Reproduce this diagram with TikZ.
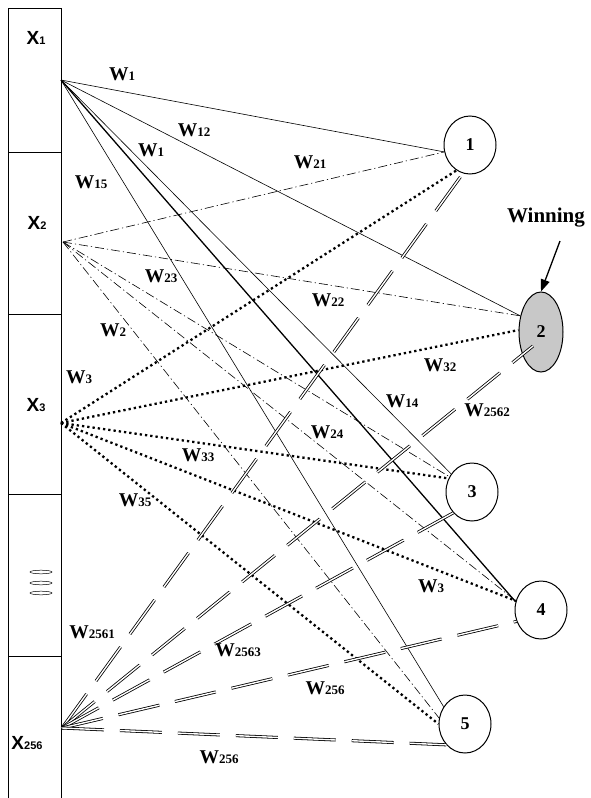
\documentclass[tikz,border=0pt]{standalone}
\usepackage{fontspec}
\setmainfont{Liberation Serif}
\newfontfamily\xsans{Liberation Sans}
\usetikzlibrary{shapes.geometric,arrows.meta}
\newcommand\lsub[1]{{\fontsize{13}{13}\selectfont #1}}
\newcommand\xsub[1]{{\fontsize{11}{11}\selectfont #1}}
\begin{document}
\begin{tikzpicture}[x=1pt,y=-1pt,
  wl/.style={font=\bfseries\fontsize{19.5}{21}\selectfont, inner sep=0pt},
  xl/.style={font=\xsans\bfseries\fontsize{19}{21}\selectfont, inner sep=0pt},
  outn/.style={ellipse, draw, line width=1pt, minimum width=52pt, minimum height=58pt, inner sep=0pt, fill=white, font=\bfseries\fontsize{18}{20}\selectfont},
  cell/.style={draw, line width=1pt, rectangle, minimum width=53pt, inner sep=0pt, anchor=north west},
  sline/.style={line width=0.6pt},
  thline/.style={line width=1.3pt},
  ddline/.style={line width=0.6pt, dash pattern=on 9pt off 3pt on 1.2pt off 3pt},
  dotline/.style={line width=2.3pt, dash pattern=on 2.3pt off 3pt},
  dbline/.style={line width=0.8pt, double, double distance=1.4pt, dash pattern=on 42pt off 16pt},
]
\fill[white] (0,0) rectangle (590,798);
\useasboundingbox (0,0) rectangle (590,798);

% left column
\node[cell, minimum height=144pt] (c1) at (7.5,8) {};
\node[cell, minimum height=162pt] (c2) at (7.5,152) {};
\node[cell, minimum height=180pt] (c3) at (7.5,314) {};
\node[cell, minimum height=162pt] (c4) at (7.5,494) {};
\node[cell, minimum height=160pt] (c5) at (7.5,656) {};

\node[xl] (lx1) at (36,38) {X\xsub{1}};
\node[xl] (lx2) at (37,223) {X\xsub{2}};
\node[xl] (lx3) at (36,405) {X\xsub{3}};
\node[xl] (lx256) at (27,743) {X\xsub{256}};
\foreach \yy in {572,583,593} \draw[line width=0.5pt] (41,\yy) ellipse (11 and 1.8);

\coordinate (x1) at (61,80);
\coordinate (x2) at (63,242);
\coordinate (x3) at (61,423);
\coordinate (x256) at (62,728);

% output nodes
\node[outn] (n1) at (470,145) {1};
\node[outn, minimum width=44pt, minimum height=80pt, fill={rgb,255:red,200;green,200;blue,200}] (n2) at (541,332) {2};
\node[outn] (n3) at (472,492) {3};
\node[outn] (n4) at (541,610) {4};
\node[outn] (n5) at (465,724) {5};
\coordinate (n2in) at (533,346);

% X1 solid
\draw[sline] (x1) -- (n1.195);
\draw[sline] (x1) -- (n2.142);
\draw[sline] (x1) -- (n3.139);
\draw[thline] (x1) -- (n4.162);
\draw[sline] (x1) -- (n5.141);

% X2 dash-dot
\draw[ddline] (x2) -- (n1.195);
\draw[ddline] (x2) -- (n2.142);
\draw[ddline] (x2) -- (n3.146);
\draw[ddline] (x2) -- (n4.160);
\draw[ddline] (x2) -- (n5.167);

% X3 dotted
\draw[dotline] (x3) -- (n1.242);
\draw[dotline] (x3) -- (n2.175);
\draw[dotline] (x3) -- (n3.150);
\draw[dotline] (x3) -- (n4.160);
\draw[dotline] (x3) -- (n5.180);

% X256 double dashed
\draw[dbline] (x256) -- (n1.256);
\draw[dbline] (x256) -- (n2in);
\draw[dbline] (x256) -- (n3.228);
\draw[dbline] (x256) -- (n4.205);
\draw[dbline] (x256) -- (n5.228);

% weight labels
\node[wl] (lw1a) at (122,74) {W\lsub{1}};
\node[wl] (lw12) at (194,130) {W\lsub{12}};
\node[wl] (lw1b) at (151,150) {W\lsub{1}};
\node[wl] (lw15) at (91,182) {W\lsub{15}};
\node[wl] (lw21) at (310,162) {W\lsub{21}};
\node[wl] (lw22) at (328,300) {W\lsub{22}};
\node[wl] (lw32) at (440,365) {W\lsub{32}};
\node[wl] (lw23) at (161,276) {W\lsub{23}};
\node[wl] (lw2) at (113,330) {W\lsub{2}};
\node[wl] (lw3a) at (79,377) {W\lsub{3}};
\node[wl] (lw33) at (198,455) {W\lsub{33}};
\node[wl] (lw35) at (135,500) {W\lsub{35}};
\node[wl] (lw14) at (402,401) {W\lsub{14}};
\node[wl] (lw2562) at (487,410) {W\lsub{2562}};
\node[wl] (lw24) at (327,432) {W\lsub{24}};
\node[wl] (lw3b) at (431,586) {W\lsub{3}};
\node[wl] (lw2561) at (92,632) {W\lsub{2561}};
\node[wl] (lw2563) at (238,650) {W\lsub{2563}};
\node[wl] (lw256a) at (325,688) {W\lsub{256}};
\node[wl] (lw256b) at (219,757) {W\lsub{256}};

% winning
\node[font=\bfseries\fontsize{21}{23}\selectfont, inner sep=0pt] (win) at (546,218) {Winning};
\coordinate (wa) at (560,241);
\draw[line width=1.3pt, -{Triangle[length=12pt,width=9pt]}] (wa) -- (n2.north);
\end{tikzpicture}
\end{document}
